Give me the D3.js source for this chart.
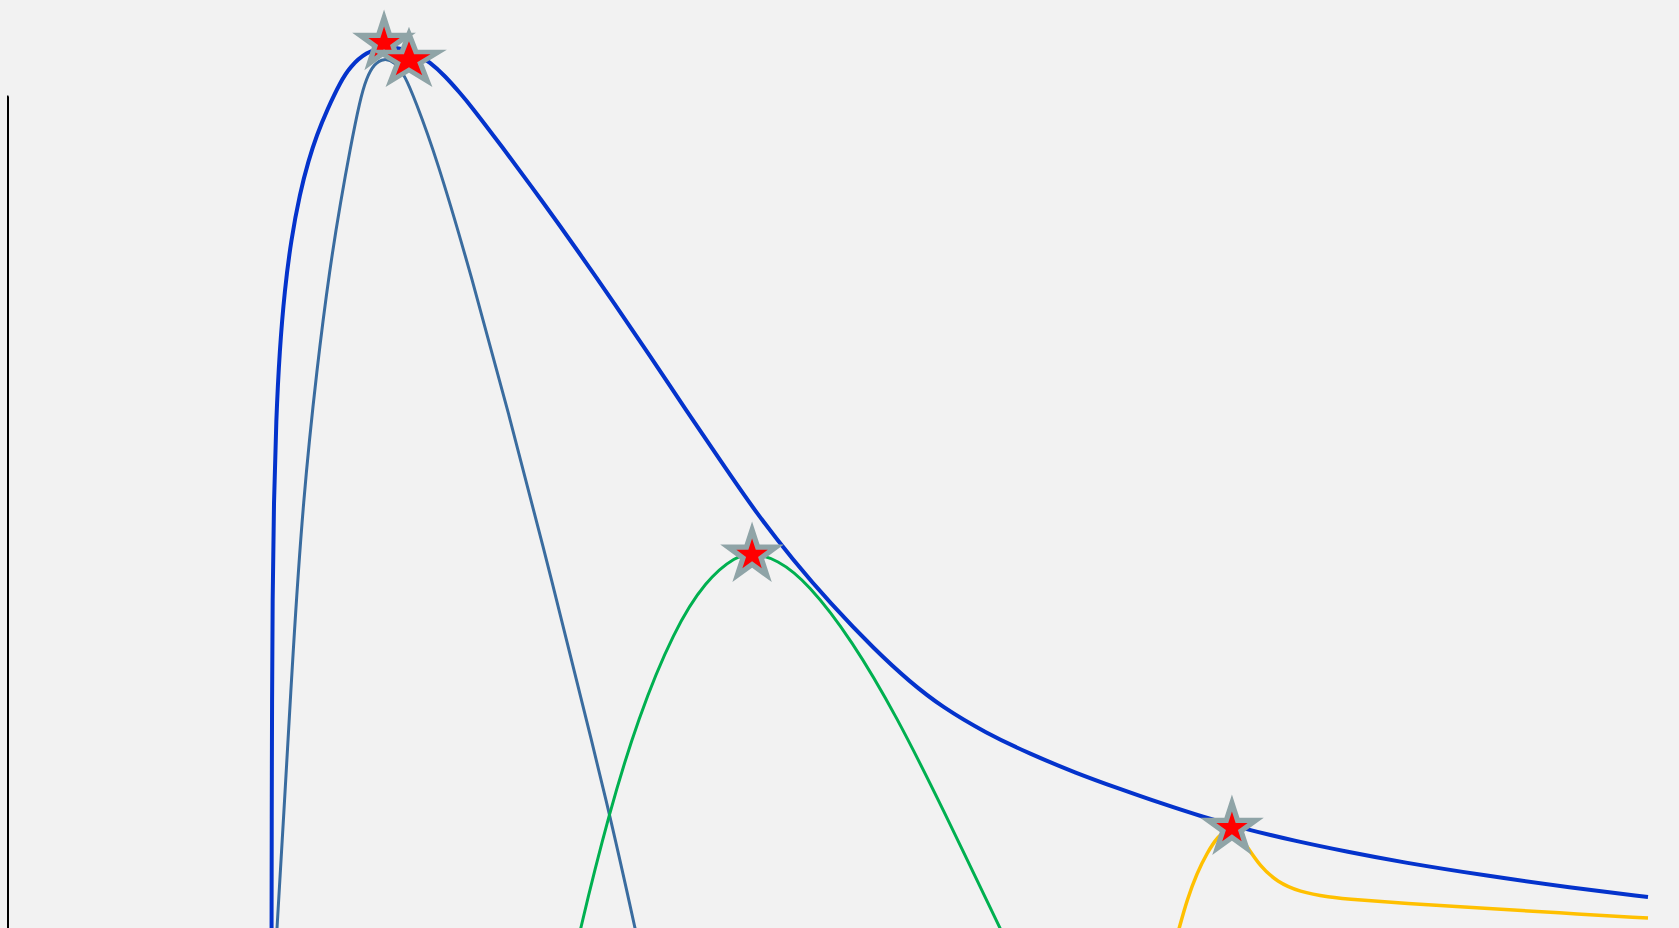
<!DOCTYPE html>
<html>
<head>
<meta charset="utf-8">
<script src="https://cdn.jsdelivr.net/npm/d3@7"></script>
<style>
  html, body { margin: 0; padding: 0; background: #f2f2f2; overflow: hidden; }
  svg { display: block; }
</style>
</head>
<body>
<svg id="chart" width="1679" height="928"></svg>
<script>
// ---------------- data ----------------
const seriesNames = ["Series 1", "Series 2", "Series 3", "Series 4"];

const series1X = [16.07,16.07,16.08,16.10,16.13,16.21,16.35,16.56,16.87,17.26,17.80,18.33,18.83,19.45,20.30,20.85,21.83,22.99,23.90,24.82,25.73,26.65,27.56,28.23,30.00,32.62,34.88,36.95,39.15,41.34,43.54,45.67,47.87,50.12,52.87,55.00,56.95,59.63,62.32,65.12,67.80,70.24,72.87,75.55,78.48,81.71,84.88,90.24,95.24,100];
const series1Y = [0,11.86,23.31,36.02,46.61,57.20,65.68,73.09,79.45,84.75,89.72,93.22,95.87,98.52,101.59,103.07,104.66,105.24,105.08,104.56,103.60,102.12,100.32,98.94,94.92,88.77,83.26,78.07,72.46,66.74,61.12,55.72,50.85,46.29,41.31,37.92,35.28,32.52,30.30,28.28,26.59,25.11,23.62,22.30,21.08,19.92,18.86,17.37,16.15,15.15];

const series2X = [16.01,16.40,16.80,17.38,17.99,18.84,19.63,20.30,20.85,21.46,21.86,22.32,22.93,23.60,24.21,24.82,26.10,28.23,30.59,32.84,33.75,36.71,38.23,39.73];
const series2Y = [0,11.86,23.31,41.31,57.20,71.29,81.89,88.98,94.28,99.58,101.91,103.39,104.03,103.60,102.12,99.58,93.64,81.14,65.99,50.85,44.49,23.94,11.86,0];

const series3X = [33.66,34.88,36.65,38.41,40.61,42.56,44.39,45.37,46.89,48.78,51.46,54.21,56.95,60.49,62.32];
const series3Y = [2.01,11.76,24.05,34.11,43.43,48.73,51.27,51.59,50.95,48.41,42.37,34.22,24.68,11.86,5.19];

const series4X = [69.63,71.40,71.89,72.50,73.11,73.78,74.39,75.06,75.61,76.34,77.38,78.78,80.43,82.44,84.88,90.24,94.33,100];
const series4Y = [0,11.86,14.83,17.69,19.81,21.61,22.30,21.72,20.34,18.43,16.74,15.68,15.15,14.83,14.51,13.93,13.49,12.92];

// peak markers
const peakX = [22.93, 24.45, 45.37, 74.63];
const peakY = [105.61, 103.81, 51.38, 22.46];

// ---------------- styles ----------------
const seriesColors = ["#0433cc", "#3a6c9f", "#00b050", "#ffc000"];
const seriesWidths = [4, 3, 3, 3.5];
const starOuterR = [33.5, 33.2, 33.5, 33.5];
const starInnerR = [16.5, 18.8, 16.5, 16.5];
const starStretch = [1, 1.2, 1, 1];

// ---------------- drawing ----------------
const svg = d3.select("#chart");
const W = 1679, H = 928;
svg.append("rect").attr("width", W).attr("height", H).attr("fill", "#f2f2f2");

const x = d3.scaleLinear().domain([0, 100]).range([8, 1648]);
const y = d3.scaleLinear().domain([0, 100]).range([1040, 96]);

// y axis (domain line only)
const axis = d3.axisRight(y).ticks(0).tickSizeOuter(1);
const ag = svg.append("g").attr("transform", "translate(7.5,0)").call(axis);
ag.select(".domain").attr("stroke", "#000").attr("stroke-width", 2);
ag.selectAll("text").remove();

const allX = [series1X, series2X, series3X, series4X];
const allY = [series1Y, series2Y, series3Y, series4Y];

const line = d3.line()
  .x(d => x(d[0]))
  .y(d => y(d[1]))
  .curve(d3.curveBasis);

const lines = svg.append("g");
seriesNames.forEach((name, i) => {
  const pts = allX[i].map((v, j) => [v, allY[i][j]]);
  lines.append("path")
    .datum(pts)
    .attr("d", line)
    .attr("fill", "none")
    .attr("stroke", seriesColors[i])
    .attr("stroke-width", seriesWidths[i])
    .attr("stroke-linejoin", "round");
});

const star = d3.symbol().type(d3.symbolStar);
const kSize = r => (r * r) / 0.8908130915292852;
const stars = svg.append("g");
peakX.forEach((px, i) => {
  const g = stars.append("g")
    .attr("transform", `translate(${x(px)},${y(peakY[i])}) scale(${starStretch[i]},1)`);
  g.append("path").attr("d", star.size(kSize(starOuterR[i]))()).attr("fill", "#8fa4a7");
  g.append("path").attr("d", star.size(kSize(starInnerR[i]))()).attr("fill", "#ff0000");
});
</script>
</body>
</html>
